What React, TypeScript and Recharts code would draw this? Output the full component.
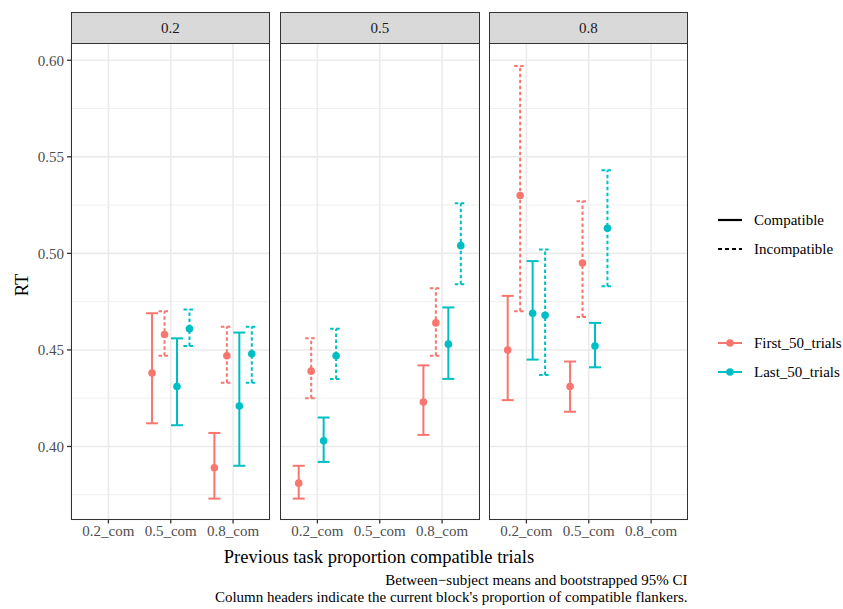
import React from 'react';
import { ScatterChart, Scatter, XAxis, YAxis, ErrorBar, CartesianGrid } from 'recharts';

// facet columns = current block proportion, x = previous task
const blocks = ['0.2', '0.5', '0.8'];
const prevTasks = ['0.2_com', '0.5_com', '0.8_com'];
const yTicks = [0.4, 0.45, 0.5, 0.55, 0.6];
const yMinor = [0.375, 0.425, 0.475, 0.525, 0.575];

// rows = block (facet), columns = previous task; null = no data
const firstCompMean = [[null, 0.438, 0.389], [0.381, null, 0.423], [0.450, 0.431, null]];
const firstCompLow = [[null, 0.412, 0.373], [0.373, null, 0.406], [0.424, 0.418, null]];
const firstCompHigh = [[null, 0.469, 0.407], [0.390, null, 0.442], [0.478, 0.444, null]];

const firstIncMean = [[null, 0.458, 0.447], [0.439, null, 0.464], [0.530, 0.495, null]];
const firstIncLow = [[null, 0.447, 0.433], [0.425, null, 0.447], [0.470, 0.467, null]];
const firstIncHigh = [[null, 0.470, 0.462], [0.456, null, 0.482], [0.597, 0.527, null]];

const lastCompMean = [[null, 0.431, 0.421], [0.403, null, 0.453], [0.469, 0.452, null]];
const lastCompLow = [[null, 0.411, 0.390], [0.392, null, 0.435], [0.445, 0.441, null]];
const lastCompHigh = [[null, 0.456, 0.459], [0.415, null, 0.472], [0.496, 0.464, null]];

const lastIncMean = [[null, 0.461, 0.448], [0.447, null, 0.504], [0.468, 0.513, null]];
const lastIncLow = [[null, 0.452, 0.433], [0.435, null, 0.484], [0.437, 0.483, null]];
const lastIncHigh = [[null, 0.471, 0.462], [0.461, null, 0.526], [0.502, 0.543, null]];

const trialNames = ['First_50_trials', 'Last_50_trials'];
const trialColors = ['#F8766D', '#00BFC4'];
const condNames = ['Compatible', 'Incompatible'];

const series = [
  { trial: 0, cond: 0, offset: -0.3, mean: firstCompMean, low: firstCompLow, high: firstCompHigh },
  { trial: 0, cond: 1, offset: -0.1, mean: firstIncMean, low: firstIncLow, high: firstIncHigh },
  { trial: 1, cond: 0, offset: 0.1, mean: lastCompMean, low: lastCompLow, high: lastCompHigh },
  { trial: 1, cond: 1, offset: 0.3, mean: lastIncMean, low: lastIncLow, high: lastIncHigh },
];

const FONT = '"Liberation Serif", "DejaVu Serif", serif';
const PANEL_LEFT = [70.5, 280, 488.5];
const PANEL_W = 199.5;
const PANEL_TOP = 43;
const PANEL_H = 476.5;
const Y_AXIS_W = 50;
const X_AXIS_H = 40;
const Y_DOMAIN = [0.36218, 0.60896];

function buildPoints(s: (typeof series)[number], block: number) {
  const pts: { x: number; y: number; err: number[] }[] = [];
  prevTasks.forEach((_, i) => {
    const m = s.mean[block][i];
    if (m == null) return;
    pts.push({ x: i + 1 + s.offset, y: m, err: [m - s.low[block][i]!, s.high[block][i]! - m] });
  });
  return pts;
}

function Panel({ block }: { block: number }) {
  const showY = block === 0;
  const yw = showY ? Y_AXIS_W : 0;
  return (
    <div style={{ position: 'absolute', left: PANEL_LEFT[block] - yw, top: PANEL_TOP }}>
      <ScatterChart width={PANEL_W + yw} height={PANEL_H + X_AXIS_H} margin={{ top: 0, right: 0, bottom: 0, left: 0 }}>
        <CartesianGrid yAxisId="minor" vertical={false} stroke="#EBEBEB" strokeWidth={0.8} />
        <CartesianGrid stroke="#EBEBEB" strokeWidth={1.6} />
        <XAxis
          type="number"
          dataKey="x"
          domain={[0.4, 3.6]}
          ticks={[1, 2, 3]}
          interval={0}
          allowDataOverflow
          tickFormatter={(v: number) => prevTasks[v - 1]}
          height={X_AXIS_H}
          axisLine={false}
          tickSize={4}
          tickMargin={2}
          tickLine={{ stroke: '#333333', strokeWidth: 1.3 }}
          tick={{ fill: '#4D4D4D', fontSize: 15, fontFamily: FONT }}
        />
        <YAxis
          type="number"
          dataKey="y"
          domain={Y_DOMAIN}
          ticks={yTicks}
          interval={0}
          allowDataOverflow
          hide={!showY}
          width={yw}
          tickFormatter={(v: number) => v.toFixed(2)}
          axisLine={false}
          tickSize={4}
          tickMargin={3}
          tickLine={{ stroke: '#333333', strokeWidth: 1.3 }}
          tick={{ fill: '#4D4D4D', fontSize: 15, fontFamily: FONT }}
        />
        <YAxis yAxisId="minor" type="number" domain={Y_DOMAIN} ticks={yMinor} interval={0} allowDataOverflow hide />
        {series.map((s, k) => (
          <Scatter
            key={k}
            data={buildPoints(s, block)}
            isAnimationActive={false}
            shape={(p: any) => <circle cx={p.cx} cy={p.cy} r={3.8} fill={trialColors[s.trial]} />}
          >
            <ErrorBar
              dataKey="err"
              direction="y"
              width={6}
              stroke={trialColors[s.trial]}
              strokeWidth={2}
              strokeDasharray={s.cond === 1 ? '3.5 2.5' : undefined}
              isAnimationActive={false}
            />
          </Scatter>
        ))}
      </ScatterChart>
      <div
        style={{
          position: 'absolute', left: yw, top: 0, width: PANEL_W, height: PANEL_H,
          border: '1.3px solid #333333', boxSizing: 'border-box', pointerEvents: 'none',
        }}
      />
      <div
        style={{
          position: 'absolute', left: yw, top: -31, width: PANEL_W, height: 32,
          background: '#D9D9D9', border: '1.3px solid #333333', boxSizing: 'border-box',
          display: 'flex', alignItems: 'center', justifyContent: 'center',
          fontFamily: FONT, fontSize: 15, color: '#1A1A1A',
        }}
      >
        {blocks[block]}
      </div>
    </div>
  );
}

function LegendKey({ kind, index }: { kind: 'cond' | 'trial'; index: number }) {
  const color = kind === 'cond' ? '#000' : trialColors[index];
  return (
    <svg width={26} height={16} style={{ display: 'block' }}>
      <line
        x1={1} y1={8} x2={25} y2={8}
        stroke={color}
        strokeWidth={kind === 'cond' ? 2.2 : 2}
        strokeDasharray={kind === 'cond' && index === 1 ? '4 3' : undefined}
      />
      {kind === 'trial' && <circle cx={13} cy={8} r={3.8} fill={color} />}
    </svg>
  );
}

export default function App() {
  const legendRow = (kind: 'cond' | 'trial', index: number, top: number, label: string) => (
    <div key={kind + index} style={{ position: 'absolute', left: 717, top: top - 8, display: 'flex', alignItems: 'center', height: 16 }}>
      <LegendKey kind={kind} index={index} />
      <span style={{ marginLeft: 11, fontFamily: FONT, fontSize: 15, color: '#000', whiteSpace: 'nowrap' }}>{label}</span>
    </div>
  );
  return (
    <div style={{ position: 'absolute', left: 0, top: 0, width: 843, height: 609, background: '#fff', overflow: 'hidden' }}>
      {blocks.map((_, b) => (
        <Panel key={b} block={b} />
      ))}
      <div
        style={{
          position: 'absolute', left: 22, top: 285, transform: 'translate(-50%, -50%) rotate(-90deg)',
          fontFamily: FONT, fontSize: 18.5, color: '#000',
        }}
      >
        RT
      </div>
      <div
        style={{
          position: 'absolute', left: 379, top: 557, transform: 'translate(-50%, -50%)',
          fontFamily: FONT, fontSize: 18.5, color: '#000', whiteSpace: 'nowrap',
        }}
      >
        Previous task proportion compatible trials
      </div>
      <div
        style={{
          position: 'absolute', right: 843 - 687.5, top: 572, textAlign: 'right',
          fontFamily: FONT, fontSize: 15, lineHeight: '17px', color: '#000', whiteSpace: 'nowrap',
        }}
      >
        Between−subject means and bootstrapped 95% CI
        <br />
        Column headers indicate the current block's proportion of compatible flankers.
      </div>
      {condNames.map((n, i) => legendRow('cond', i, 220 + i * 29, n))}
      {trialNames.map((n, i) => legendRow('trial', i, 343 + i * 29, n))}
    </div>
  );
}
